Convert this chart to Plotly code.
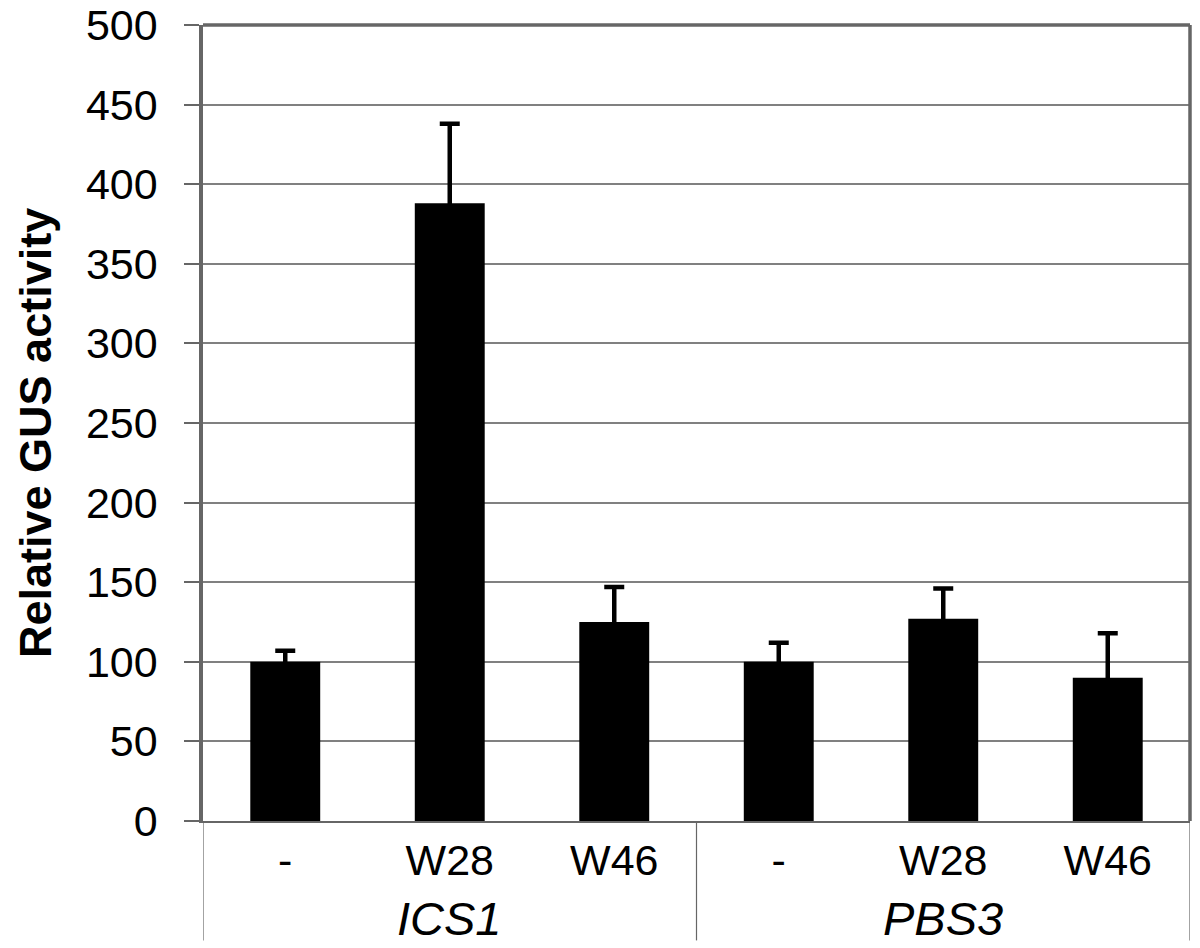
import plotly.graph_objects as go

conditions = ["-", "W28", "W46", "-", "W28", "W46"]
genes = ["ICS1", "PBS3"]
gus_activity = [100, 388, 125, 100, 127, 90]
gus_error = [7, 50, 22, 12, 19, 28]
y_ticks = [0, 50, 100, 150, 200, 250, 300, 350, 400, 450, 500]

FONT = "Liberation Sans, Arial, sans-serif"
x_pos = list(range(len(conditions)))

fig = go.Figure()
# error bars first (transparent bars), the black bars then hide the lower half
fig.add_trace(go.Bar(
    x=x_pos, y=gus_activity, width=0.425,
    marker=dict(color="rgba(0,0,0,0)", line=dict(width=0)),
    error_y=dict(type="data", array=gus_error, color="black", thickness=4.5, width=10),
))
fig.add_trace(go.Bar(
    x=x_pos, y=gus_activity, width=0.425,
    marker=dict(color="black", line=dict(width=0)),
))

# group labels under the condition ticks
for i, g in enumerate(genes):
    fig.add_annotation(x=i * 3 + 1, y=0, xref="x", yref="paper", yanchor="middle",
                       yshift=-97, text="<i>%s</i>" % g, showarrow=False,
                       font=dict(family=FONT, size=47, color="black"))

# y axis title
fig.add_annotation(x=0, y=0.5, xref="paper", yref="paper", xanchor="center",
                   yanchor="middle", xshift=-168, yshift=-10, textangle=-90,
                   text="<b>Relative GUS activity</b>", showarrow=False,
                   font=dict(family=FONT, size=45, color="black"))

# separators between gene groups
for xs in [-0.5, 2.5, 5.5]:
    fig.add_shape(type="line", x0=xs, x1=xs, xref="x", y0=0, y1=-0.15, yref="paper",
                  line=dict(color="#666666", width=1.2))

# plot frame top / right
fig.add_shape(type="line", x0=0, x1=1, xref="paper", y0=1, y1=1, yref="paper",
              line=dict(color="#666666", width=3.5))
fig.add_shape(type="line", x0=1, x1=1, xref="paper", y0=0, y1=1, yref="paper",
              line=dict(color="#666666", width=3.5))

# page has an 8px body margin, so the figure is offset by 8px
fig.update_layout(
    width=1192, height=940,
    margin=dict(l=195, r=10, t=17, b=127),
    barmode="overlay",
    plot_bgcolor="white", paper_bgcolor="white",
    showlegend=False,
    font=dict(family=FONT, color="black"),
    xaxis=dict(tickmode="array", tickvals=x_pos, ticktext=conditions,
               range=[-0.5, 5.5], showgrid=False, ticks="", automargin=False,
               tickfont=dict(size=43), showline=True, linecolor="#666666",
               linewidth=2),
    yaxis=dict(range=[0, 500], tickvals=y_ticks, showgrid=True, automargin=False,
               gridcolor="#808080", gridwidth=1.5, ticks="outside", ticklen=15,
               tickcolor="#666666", tickwidth=1.5, tickfont=dict(size=43),
               ticklabeloverflow="allow",
               showline=True, linecolor="#666666", linewidth=3.5,
               ticklabelstandoff=18, zeroline=False),
)

fig.write_html("out.html")
